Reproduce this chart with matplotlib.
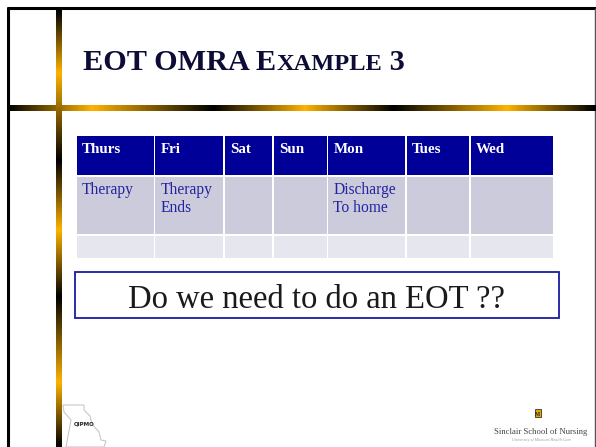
import matplotlib
matplotlib.use('Agg')
import matplotlib.pyplot as plt
import numpy as np
from matplotlib.colors import LinearSegmentedColormap
from matplotlib.patches import Rectangle, Polygon

# Содержимое слайда
title_parts = ['EOT OMRA E', 'XAMPLE', ' 3']
days = ['Thurs', 'Fri', 'Sat', 'Sun', 'Mon', 'Tues', 'Wed']
row1 = ['Therapy', 'Therapy\nEnds', '', '', 'Discharge\nTo home', '', '']
row2 = ['', '', '', '', '', '', '']
question = 'Do we need to do an EOT ??'

# Геометрия таблицы (пиксели)
col_edges = [75.7, 154.5, 224, 273, 327.3, 406, 470, 553.3]
row_edges = [135, 176.2, 235, 258.3]

W, H = 596, 447
fig = plt.figure(figsize=(W / 100, H / 100), dpi=100)
ax = fig.add_axes([0, 0, 1, 1])
ax.set_xlim(0, W)
ax.set_ylim(H, 0)
ax.axis('off')

serif = 'Liberation Serif'
gold = '#ffb300'

# Рамка слайда
ax.plot([8, 8], [7, H], color='black', lw=2.2, solid_capstyle='butt')
ax.plot([7, W], [8, 8], color='black', lw=2.2, solid_capstyle='butt')
ax.plot([594.5, 594.5], [9, H], color='#555555', lw=1)

# Градиентные полосы
def gradient_cmap(stops):
    return LinearSegmentedColormap.from_list('g', stops)

h_stops = [(0, 'black'), (84 / 589, gold), (206 / 589, 'black'), (298 / 589, gold),
           (387 / 589, 'black'), (501 / 589, gold), (1, 'black')]
ax.imshow(np.linspace(0, 1, 600)[None, :], cmap=gradient_cmap(h_stops),
          extent=[7, W, 110.7, 105], aspect='auto', interpolation='bilinear', zorder=2)

v_stops = [(0, 'black'), (63 / 438, gold), (151 / 438, 'black'), (221 / 438, gold),
           (288 / 438, 'black'), (374 / 438, gold), (1, 'black')]
ax.imshow(np.linspace(0, 1, 600)[:, None], cmap=gradient_cmap(v_stops),
          extent=[56, 62, H, 9], aspect='auto', interpolation='bilinear', zorder=3)
ax.set_xlim(0, W)
ax.set_ylim(H, 0)

# Заголовок с капителью
fig.canvas.draw()
renderer = fig.canvas.get_renderer()
x = 83
sizes = [21.8, 17.6, 21.8]
for part, fs in zip(title_parts, sizes):
    t = ax.text(x, 69.5, part, fontsize=fs, fontweight='bold', family=serif,
                color='#0c0c36', va='baseline', ha='left')
    bb = t.get_window_extent(renderer)
    x = ax.transData.inverted().transform((bb.x1, 0))[0]

# Таблица
fills = ['#000099', '#cbcbdc', '#e6e6ee']
rows = [days, row1, row2]
gap = 0.8
for r in range(3):
    for c in range(7):
        x0, x1 = col_edges[c], col_edges[c + 1]
        y0, y1 = row_edges[r], row_edges[r + 1]
        ax.add_patch(Rectangle((x0 + gap, y0 + gap), x1 - x0 - 2 * gap, y1 - y0 - 2 * gap,
                               facecolor=fills[r], edgecolor='none', zorder=1))
        txt = rows[r][c]
        if not txt:
            continue
        if r == 0:
            ax.text(x0 + 6, 153.3, txt, fontsize=10.8, fontweight='bold', family=serif,
                    color='white', va='baseline', ha='left')
        else:
            for i, line in enumerate(txt.split('\n')):
                ax.text(x0 + 6, 194.3 + 17.4 * i, line, fontsize=11.2, family=serif,
                        color='#2323a0', va='baseline', ha='left')

# Вопрос в рамке
ax.add_patch(Rectangle((75, 272.3), 484, 45.4, facecolor='white', edgecolor='#1a1aa0', lw=1.3))
ax.text(316, 308.3, question, fontsize=23.5, family=serif, color='#1a1a1a',
        va='baseline', ha='center')

# Логотип QIPMO (контур штата)
mo = [(63, 405), (84, 405), (84, 410), (90, 416), (92, 424), (99, 432), (101, 440),
      (106, 441), (104, 447), (66, 447), (71, 420), (64, 412)]
ax.add_patch(Polygon(mo, closed=True, facecolor='white', edgecolor='#c8c8c8', lw=0.8))
ax.text(84, 424, 'QIPMO', fontsize=4, fontweight='bold', family='DejaVu Sans',
        color='#222222', ha='center', va='center')

# Логотип Sinclair School of Nursing
ax.add_patch(Rectangle((535, 409), 6, 8, facecolor='#e0a800', edgecolor='#333333', lw=0.6))
ax.text(538, 415.5, 'M', fontsize=4, fontweight='bold', family=serif,
        color='#222222', ha='center', va='baseline')
ax.text(540.5, 434, 'Sinclair School of Nursing', fontsize=6.2, family=serif,
        color='#444444', ha='center', va='baseline')
ax.text(542, 441, 'University of Missouri Health Care', fontsize=3, family=serif,
        style='italic', color='#999999', ha='center', va='baseline')

plt.savefig('out.png', dpi=100)
